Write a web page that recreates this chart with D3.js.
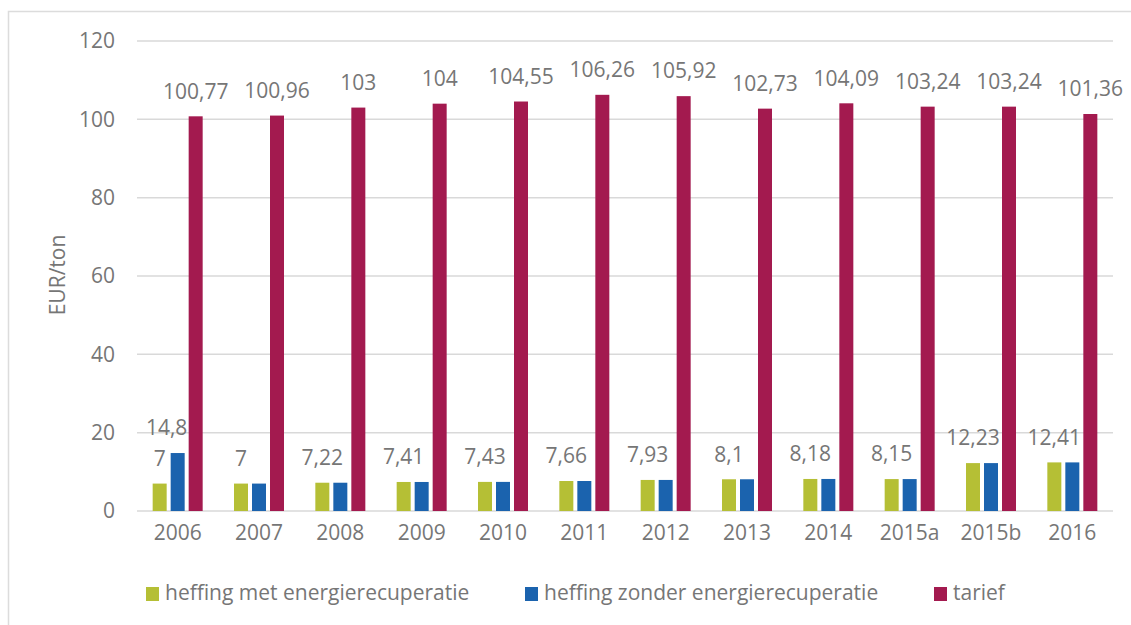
<!DOCTYPE html>
<html><head><meta charset="utf-8">
<script src="https://cdn.jsdelivr.net/npm/d3@7/dist/d3.min.js"></script>
<style>
html,body{margin:0;padding:0;background:#fff;}
svg{display:block;}
text{font-family:"Open Sans",sans-serif;fill:#767676;}
</style></head><body>
<script>
const categories = ["2006","2007","2008","2009","2010","2011","2012","2013","2014","2015a","2015b","2016"];
const seriesNames = ["heffing met energierecuperatie","heffing zonder energierecuperatie","tarief"];
const heffingMet = [7,7,7.22,7.41,7.43,7.66,7.93,8.1,8.18,8.15,12.23,12.41];
const heffingZonder = [14.8,7,7.22,7.41,7.43,7.66,7.93,8.1,8.18,8.15,12.23,12.41];
const tarief = [100.77,100.96,103,104,104.55,106.26,105.92,102.73,104.09,103.24,103.24,101.36];
const showLabels = [heffingMet.map(()=>true), heffingZonder.map((v,i)=>i===0), tarief.map(()=>true)];
const yTicks = [0,20,40,60,80,100,120];
const colors = ["#b5bf35","#1b63ae","#a31a4f"];
const yTitle = "EUR/ton";

const FS=21, FF="'Open Sans',sans-serif", TC="#767676";
const W=1131,H=625;
const svg=d3.select("body").append("svg").attr("width",W).attr("height",H);
// frame
svg.append("path").attr("d","M8.5,625 V11.5 H1131").attr("fill","none").attr("stroke","#dcdcdc").attr("stroke-width",1.5);

const x=d3.scaleBand().domain(categories).range([137,1113]).padding(0);
const y=d3.scaleLinear().domain([0,120]).range([511,41]);
const sub=d3.scaleBand().domain(seriesNames).range([0,50]).paddingInner(4/18).paddingOuter(0);

// grid
svg.append("g").selectAll("line").data(yTicks).join("line")
  .attr("x1",137).attr("x2",1113).attr("y1",d=>y(d)).attr("y2",d=>y(d))
  .attr("stroke","#d9d9d9").attr("stroke-width",1.5);

// y axis
const yAxis=d3.axisLeft(y).tickValues(yTicks).tickSize(0).tickPadding(0).tickFormat(d=>d);
const ya=svg.append("g").attr("transform","translate(115,0)").call(yAxis);
ya.select(".domain").remove();
ya.selectAll("text").attr("font-size",FS).attr("fill",TC).style("font-family",FF);

// x axis
const xAxis=d3.axisBottom(x).tickSize(0).tickPadding(0);
const xa=svg.append("g").attr("transform","translate(0,525)").call(xAxis);
xa.select(".domain").remove();
xa.selectAll("text").attr("font-size",FS).attr("fill",TC).style("font-family",FF);

// y title
svg.append("text").attr("transform","translate(58,275) rotate(-90)").attr("text-anchor","middle").attr("dy","0.35em")
  .attr("font-size",FS).text(yTitle);

const data=[heffingMet,heffingZonder,tarief];
const fmt=v=>String(v).replace(".",",");
data.forEach((vals,si)=>{
  const g=svg.append("g");
  g.selectAll("rect").data(vals).join("rect")
    .attr("x",(d,i)=>x(categories[i])+x.bandwidth()/2-25+sub(seriesNames[si]))
    .attr("width",sub.bandwidth())
    .attr("y",d=>y(d)).attr("height",d=>y(0)-y(d))
    .attr("fill",colors[si]);
  g.selectAll("text").data(vals.map((v,i)=>({v,i})).filter(d=>showLabels[si][d.i])).join("text")
    .attr("x",d=>x(categories[d.i])+x.bandwidth()/2-25+sub(seriesNames[si])+sub.bandwidth()/2+(si===1?-11:0))
    .attr("y",d=>y(d.v)-25).attr("dy","0.35em")
    .attr("text-anchor","middle").attr("font-size",FS).text(d=>fmt(d.v));
});

// legend
const legX=[146,525,934];
const lg=svg.append("g");
seriesNames.forEach((n,i)=>{
  lg.append("rect").attr("x",legX[i]).attr("y",587).attr("width",13).attr("height",14).attr("fill",colors[i]);
  lg.append("text").attr("x",legX[i]+19).attr("y",593).attr("dy","0.35em").attr("font-size",FS).text(n);
});
</script>
</body></html>
